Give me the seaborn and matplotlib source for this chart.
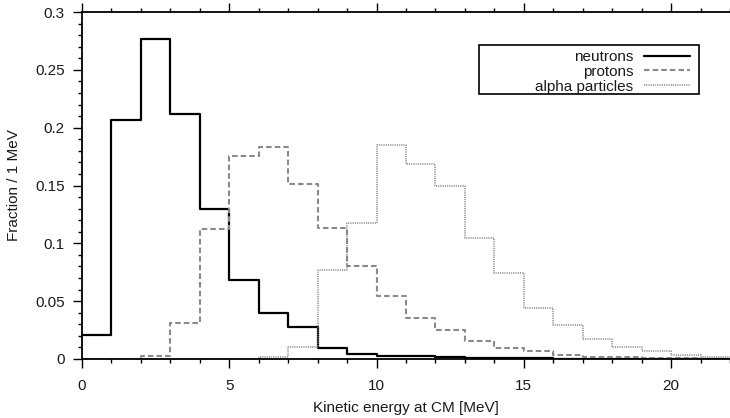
import numpy as np
import pandas as pd
import matplotlib
matplotlib.use("Agg")
import matplotlib.pyplot as plt
from matplotlib.patches import Rectangle
from matplotlib.ticker import MultipleLocator
import seaborn as sns

# Kinetic energy bins [MeV], 1 MeV wide
bin_edges = list(range(0, 23))
bin_centers = [e + 0.5 for e in bin_edges[:-1]]

neutrons = [0.0207, 0.207, 0.2767, 0.2118, 0.130, 0.0683, 0.0398, 0.028,
            0.0098, 0.0043, 0.0027, 0.0022, 0.0015, 0.0010, 0.0007, 0.0005,
            0.0003, 0.0002, 0.0001, 0.0001, 0.0, 0.0]
protons = [0.0, 0.0, 0.0026, 0.0308, 0.112, 0.1755, 0.183, 0.1516,
           0.1133, 0.080, 0.0547, 0.0357, 0.025, 0.0158, 0.0098, 0.0066,
           0.0037, 0.0020, 0.0013, 0.0010, 0.0005, 0.0003]
alphas = [0.0, 0.0, 0.0, 0.0, 0.0, 0.0, 0.0013, 0.0107,
          0.077, 0.118, 0.185, 0.169, 0.1496, 0.105, 0.0747, 0.0438,
          0.0297, 0.017, 0.0107, 0.0072, 0.0035, 0.0020]

series_labels = ["neutrons", "protons", "alpha particles"]
x_ticks = [0, 5, 10, 15, 20]
y_ticks = [0, 0.05, 0.1, 0.15, 0.2, 0.25, 0.3]
y_tick_labels = ["0", "0.05", "0.1", "0.15", "0.2", "0.25", "0.3"]

sns.set_style("ticks")
plt.rcParams["font.family"] = ["Liberation Sans", "DejaVu Sans"]
plt.rcParams["font.size"] = 11
plt.rcParams["lines.scale_dashes"] = False

fig = plt.figure(figsize=(7.30, 4.18), dpi=100)
ax = fig.add_axes([82 / 730, 1 - 359 / 418, 648 / 730, 347 / 418])

df = pd.DataFrame({
    "energy": np.tile(bin_centers, 3),
    "fraction": np.concatenate([neutrons, protons, alphas]),
    "particle": np.repeat(series_labels, len(bin_centers)),
})

styles = {
    "neutrons": dict(color="black", linewidth=1.6, linestyle="-"),
    "protons": dict(color="#8a8a8a", linewidth=1.5, linestyle=(0, (4.0, 2.2))),
    "alpha particles": dict(color="#858585", linewidth=1.1, linestyle=(0, (0.8, 0.8))),
}

for name in series_labels:
    sub = df[df["particle"] == name]
    sns.histplot(data=sub, x="energy", weights="fraction", bins=bin_edges,
                 element="step", fill=False, ax=ax, label=name, **styles[name])

ax.set_xlim(0, 22)
ax.set_ylim(0, 0.3)
ax.set_xticks(x_ticks)
ax.set_xticklabels([str(t) for t in x_ticks])
ax.set_yticks(y_ticks)
ax.set_yticklabels(y_tick_labels)
ax.xaxis.set_minor_locator(MultipleLocator(1))
ax.yaxis.set_minor_locator(MultipleLocator(0.01))

ax.tick_params(axis="both", which="major", direction="out", length=6.5,
               width=1.0, color="black", labelsize=11, labelcolor="#1a1a1a")
ax.tick_params(axis="both", which="minor", direction="out", length=3.2,
               width=1.0, color="black")
ax.tick_params(axis="x", which="both", top=True, bottom=True, pad=8)
ax.tick_params(axis="y", which="major", pad=6)

for side in ["left", "bottom", "top"]:
    ax.spines[side].set_visible(True)
    ax.spines[side].set_color("black")
    ax.spines[side].set_linewidth(1.3)
ax.spines["right"].set_visible(False)

ax.set_xlabel("Kinetic energy at CM [MeV]", fontsize=11, color="#1a1a1a", labelpad=6)
ax.set_ylabel("Fraction / 1 MeV", fontsize=11, color="#1a1a1a", labelpad=10)

leg = ax.legend(loc="upper right", bbox_to_anchor=((693 - 82) / 648, (359 - 47) / 347),
                markerfirst=False, frameon=False, handlelength=3.0,
                handletextpad=0.7, labelspacing=0.05, borderpad=0.2,
                borderaxespad=0, fontsize=11)
for txt in leg.get_texts():
    txt.set_color("#1a1a1a")

# Boxed key, wider on the left like a classic plotting-program key
x_left, x_right = (479 - 82) / 648, (699 - 82) / 648
y_bottom, y_top = (359 - 94) / 347, (359 - 45) / 347
ax.add_patch(Rectangle((x_left, y_bottom), x_right - x_left, y_top - y_bottom,
                       transform=ax.transAxes, fill=False, edgecolor="black",
                       linewidth=1.2, zorder=5, clip_on=False))

fig.savefig("out.png", dpi=100)
